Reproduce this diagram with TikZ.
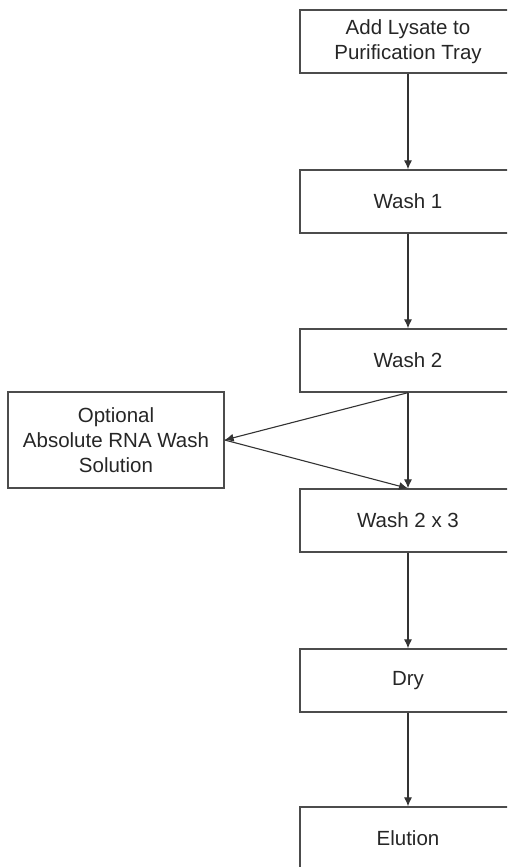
\documentclass[tikz,border=0pt]{standalone}
\usepackage{fontspec}
\setmainfont{Liberation Sans}
\usetikzlibrary{arrows.meta}
\begin{document}
\begin{tikzpicture}[x=1pt,y=-1pt,
  box/.style={draw=black!70,line width=1.3pt,text=black!85,minimum width=216pt,
    minimum height=63pt,align=center,font=\fontsize{20.5}{25}\selectfont},
  arr/.style={draw=black!80,line width=1.1pt,-{Latex[length=9pt,width=8pt]}}]
\useasboundingbox (0,0) rectangle (507,867);
\clip (0,0) rectangle (507,867);

\node[box] (lysate) at (408,41.5) {Add Lysate to\\Purification Tray};
\node[box] (wash1) at (408,201.5) {Wash 1};
\node[box] (wash2) at (408,360.5) {Wash 2};
\node[box] (wash2x3) at (408,520.5) {Wash 2 x 3};
\node[box] (dry) at (408,680.5) {Dry};
\node[box] (elution) at (408,838.5) {Elution};
\node[box,minimum height=96pt] (opt) at (116,440) {Optional\\Absolute RNA Wash\\Solution};

\draw[arr] (lysate) -- (wash1);
\draw[arr] (wash1) -- (wash2);
\draw[arr] (wash2) -- (wash2x3);
\draw[arr] (wash2x3) -- (dry);
\draw[arr] (dry) -- (elution);
\draw[arr] (wash2.south) -- (opt.east);
\draw[arr] (opt.east) -- (wash2x3.north);
\end{tikzpicture}
\end{document}
